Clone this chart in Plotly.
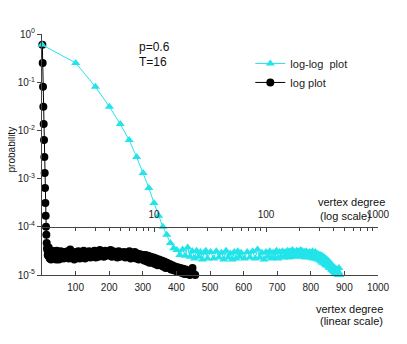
import plotly.graph_objects as go

# degree distribution (p=0.6, T=16)
head_degree = list(range(1, 16))
head_prob = [0.6, 0.25, 0.08, 0.031, 0.0135, 0.0063, 0.0028, 0.0013,
             6.4e-4, 3.1e-4, 1.7e-4, 1.0e-4, 6.8e-5, 4.6e-5, 3.6e-5]

tail_degree = list(range(16, 31)) + list(range(32, 61, 2)) + list(range(64, 457, 4))
# tail probabilities in units of 1e-5
tail_prob_e5 = [
    3.3, 2.6, 3.4, 2.5, 3.7, 2.4, 3.1, 2.2, 3.2, 2.4, 3.0, 2.1, 2.9, 3.2, 2.2,
    3.0, 2.2, 3.1, 2.3, 2.9, 2.1, 3.2, 2.3, 2.8, 2.1, 3.0, 2.2, 3.1, 2.4, 2.9,
    2.2, 3.0, 2.3, 3.1, 2.2, 3.4, 2.3, 2.9, 2.1, 3.0,
    2.4, 3.1, 2.2, 2.9, 2.3, 3.2, 2.2, 3.0, 2.4, 3.1,
    2.3, 3.0, 2.5, 3.2, 2.3, 3.1, 2.4, 3.3, 2.5, 3.0,
    2.4, 3.2, 2.5, 3.1, 2.6, 3.3, 2.4, 3.1, 2.5, 3.0,
    2.3, 3.1, 2.4, 2.9, 2.5, 3.0, 2.3, 2.9, 2.4, 3.1,
    2.2, 2.9, 2.3, 3.0, 2.2, 2.8, 2.1, 2.7, 2.2, 2.6,
    2.0, 2.6, 1.9, 2.5, 1.8, 2.4, 1.8, 2.3, 1.7, 2.2,
    1.6, 2.1, 1.6, 2.0, 1.5, 1.9, 1.4, 1.8, 1.4, 1.7,
    1.3, 1.6, 1.25, 1.5, 1.2, 1.45, 1.15, 1.4, 1.1, 1.35,
    1.05, 1.3, 1.05, 1.2, 1.0, 1.15, 1.4, 1.05, 1.0,
]

degree = head_degree + tail_degree
prob = head_prob + [v * 1e-5 for v in tail_prob_e5]

linear_ticks = [100, 200, 300, 400, 500, 600, 700, 800, 900, 1000]
log_ticks = [10, 100, 1000]
log_minor = [2, 3, 4, 5, 6, 7, 8, 9, 20, 30, 40, 50, 60, 70, 80, 90,
             200, 300, 400, 500, 600, 700, 800, 900]
y_ticks = [1, 1e-1, 1e-2, 1e-3, 1e-4, 1e-5]
y_ticktext = ['10<sup>0</sup>', '10<sup>-1</sup>', '10<sup>-2</sup>',
              '10<sup>-3</sup>', '10<sup>-4</sup>', '10<sup>-5</sup>']

CYAN = '#22e4ea'
AXIS = '#444444'

fig = go.Figure()

fig.add_trace(go.Scatter(
    x=degree, y=prob, xaxis='x2', yaxis='y',
    name='log-log\u00a0 plot', mode='lines+markers',
    line=dict(color=CYAN, width=1),
    marker=dict(symbol='triangle-up', size=8, color=CYAN),
    cliponaxis=False))

fig.add_trace(go.Scatter(
    x=degree, y=prob, xaxis='x', yaxis='y',
    name='log plot', mode='lines+markers',
    line=dict(color='black', width=1),
    marker=dict(symbol='circle', size=8, color='black'),
    cliponaxis=False))

# the page body adds an 8px margin, so the figure is 8px smaller than the window
fig.update_layout(
    width=399, height=336,
    margin=dict(l=34, r=29, t=26, b=69, autoexpand=False),
    paper_bgcolor='white', plot_bgcolor='white',
    font=dict(family='Liberation Sans, Arial, sans-serif', size=10, color='#222222'),
    legend=dict(x=0.62, y=0.938, xanchor='left', yanchor='top',
                bgcolor='rgba(0,0,0,0)', tracegroupgap=0,
                font=dict(size=11, color='#222222')),
    xaxis=dict(type='linear', range=[0, 1000], tickvals=linear_ticks,
               tickangle=0, ticks='inside', ticklen=4, tickcolor=AXIS,
               ticklabelstandoff=3,
               showline=True, linecolor=AXIS, linewidth=1,
               showgrid=False, zeroline=False, automargin=False),
    xaxis2=dict(type='log', range=[0, 3], overlaying='x', anchor='free',
                position=0.2, side='top', tickangle=0,
                tickvals=log_ticks, ticktext=[str(t) for t in log_ticks],
                ticks='inside', ticklen=4, tickcolor=AXIS,
                ticklabelstandoff=5,
                minor=dict(tickvals=log_minor, ticks='inside', ticklen=3,
                           tickcolor=AXIS, showgrid=False),
                showline=True, linecolor=AXIS, linewidth=1,
                showgrid=False, zeroline=False, automargin=False),
    yaxis=dict(type='log', range=[-5, 0], tickvals=y_ticks, ticktext=y_ticktext,
               ticks='outside', ticklen=4, tickcolor=AXIS,
               showline=True, linecolor=AXIS, linewidth=1,
               showgrid=False, zeroline=False, automargin=False),
)

notes = [
    ('p=0.6', 0.283, 0.946, 'left', 12),
    ('T=16', 0.283, 0.884, 'left', 12),
    ('vertex degree', 0.815, 0.303, 'left', 11),
    ('(log scale)', 0.822, 0.245, 'left', 11),
    ('vertex degree', 1.021, -0.141, 'right', 11),
    ('(linear scale)', 1.021, -0.191, 'right', 11),
]
for text, x, y, anchor, size in notes:
    fig.add_annotation(text=text, xref='paper', yref='paper', x=x, y=y,
                       xanchor=anchor, yanchor='middle', showarrow=False,
                       font=dict(size=size, color='#111111'))

fig.add_annotation(text='probability', xref='paper', yref='paper',
                   x=-0.09, y=0.52, textangle=-90, showarrow=False,
                   xanchor='center', yanchor='middle',
                   font=dict(size=10, color='#111111'))

fig.write_html("out.html")
